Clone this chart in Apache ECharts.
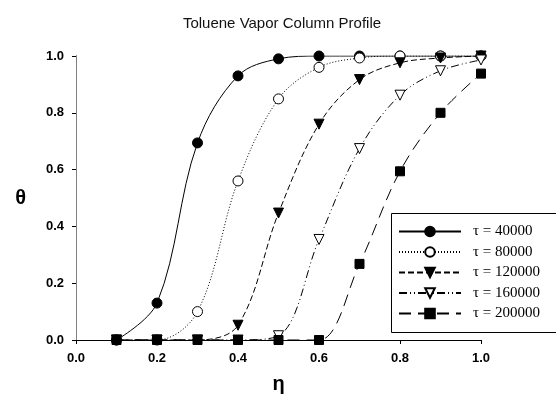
<!DOCTYPE html>
<html>
<head>
<meta charset="utf-8">
<script src="https://cdn.jsdelivr.net/npm/echarts@6/dist/echarts.min.js"></script>
<style>
  html, body { margin: 0; padding: 0; background: #fff; }
  #main { width: 556px; height: 399px; }
</style>
</head>
<body>
<div id="main"></div>
<script>
// eta positions
var eta = [0.1, 0.2, 0.3, 0.4, 0.5, 0.6, 0.7, 0.8, 0.9, 1.0];
// theta for each tau
var tau40000 = [0, 0.13, 0.694, 0.93, 0.99, 1.0, 1.0, 1.0, 1.0, 1.0];
var tau80000 = [0, 0, 0.1, 0.56, 0.849, 0.96, 0.993, 1.0, 1.0, 1.0];
var tau120000 = [0, 0, 0, 0.052, 0.447, 0.76, 0.917, 0.976, 0.993, 1.0];
var tau160000 = [0, 0, 0, 0, 0.015, 0.354, 0.674, 0.862, 0.948, 0.986];
var tau200000 = [0, 0, 0, 0, 0, 0, 0.268, 0.594, 0.80, 0.938];
var tickLabels = ['0.0', '0.2', '0.4', '0.6', '0.8', '1.0'];

var downTri = 'path://M0,0 L10,0 L5,9 Z';

function pairs(ys) {
  return eta.map(function (x, i) { return [x, ys[i]]; });
}

function mk(name, ys, symbol, filled, dash) {
  return {
    name: name,
    type: 'line',
    data: pairs(ys),
    smooth: 0.35,
    symbol: symbol,
    symbolSize: symbol === 'rect' ? 9 : 10,
    showAllSymbol: true,
    itemStyle: { color: filled ? '#000' : '#fff', borderColor: '#000', borderWidth: 1 },
    lineStyle: { color: '#000', width: 1, type: dash },
    emphasis: { disabled: true },
    z: 3
  };
}

var chart = echarts.init(document.getElementById('main'));
var axisFont = { fontFamily: 'Liberation Sans', fontWeight: 'bold', fontSize: 13, color: '#000' };

chart.setOption({
  animation: false,
  backgroundColor: '#fff',
  title: {
    text: 'Toluene Vapor Column Profile',
    left: 277,
    textAlign: 'center',
    top: 11,
    textStyle: { fontFamily: 'Liberation Sans', fontWeight: 'normal', fontSize: 15, color: '#111' }
  },
  grid: { left: 76, right: 75, top: 56, bottom: 52 },
  // legend frame runs off the right edge of the picture
  graphic: [{
    type: 'rect', z: 9, silent: true,
    shape: { x: 391.5, y: 213.5, width: 200, height: 119 },
    style: { fill: '#fff', stroke: '#000', lineWidth: 1 }
  }],
  legend: {
    orient: 'vertical',
    left: 391,
    top: 213,
    itemWidth: 62,
    itemHeight: 12,
    itemGap: 5.5,
    padding: [11, 10, 10, 7],
    z: 10,
    textStyle: { fontFamily: 'Liberation Serif', fontSize: 15, color: '#000', padding: [0, 0, 0, 7] },
    data: ['τ = 40000', 'τ = 80000', 'τ = 120000', 'τ = 160000', 'τ = 200000']
  },
  xAxis: [{
    type: 'value', min: 0, max: 1, interval: 0.2,
    name: 'η', nameLocation: 'middle', nameGap: 34,
    nameTextStyle: { fontFamily: 'Liberation Sans', fontWeight: 'bold', fontSize: 20, color: '#000' },
    axisLine: { lineStyle: { color: '#000', width: 1 } },
    axisTick: { show: true, length: 4, lineStyle: { color: '#000' } },
    axisLabel: Object.assign({ margin: 12, formatter: function (v) { return tickLabels[Math.round(v * 5)]; } }, axisFont),
    splitLine: { show: false }
  }, {
    type: 'value', min: 0, max: 1, position: 'top',
    axisLine: { show: true, lineStyle: { color: '#000', width: 1 } },
    axisTick: { show: false }, axisLabel: { show: false }, splitLine: { show: false }
  }],
  yAxis: [{
    type: 'value', min: 0, max: 1, interval: 0.2,
    name: 'θ', nameLocation: 'middle', nameGap: 50, nameRotate: 0,
    nameTextStyle: { fontFamily: 'Liberation Sans', fontWeight: 'bold', fontSize: 20, color: '#000' },
    axisLine: { show: true, lineStyle: { color: '#000', width: 1 } },
    axisTick: { show: true, length: 4, lineStyle: { color: '#000' } },
    axisLabel: Object.assign({ margin: 12, formatter: function (v) { return tickLabels[Math.round(v * 5)]; } }, axisFont),
    splitLine: { show: false }
  }, {
    type: 'value', min: 0, max: 1, position: 'right',
    axisLine: { show: true, lineStyle: { color: '#808080', width: 1 } },
    axisTick: { show: false }, axisLabel: { show: false }, splitLine: { show: false }
  }],
  series: [
    mk('τ = 40000', tau40000, 'circle', true, 'solid'),
    mk('τ = 80000', tau80000, 'circle', false, [1, 2]),
    mk('τ = 120000', tau120000, downTri, true, [6, 3]),
    mk('τ = 160000', tau160000, downTri, false, [8, 3, 1, 3, 1, 3]),
    mk('τ = 200000', tau200000, 'rect', true, [12, 7])
  ]
});
</script>
</body>
</html>
